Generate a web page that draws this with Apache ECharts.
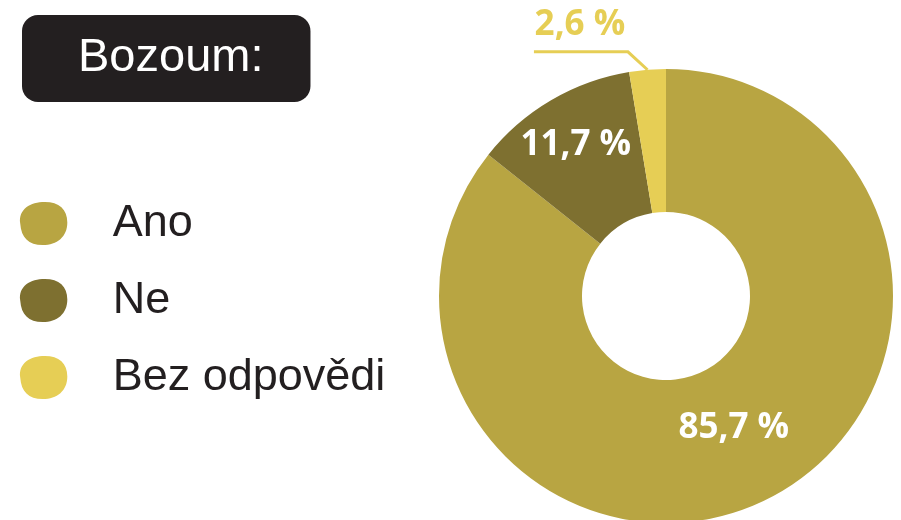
<!DOCTYPE html>
<html>
<head>
<meta charset="utf-8">
<script src="https://cdn.jsdelivr.net/npm/echarts@6/dist/echarts.min.js"></script>
<style>
html,body{margin:0;padding:0;background:#fff;}
#chart{width:901px;height:520px;}
</style>
</head>
<body>
<div id="chart"></div>
<script>
const titleText = 'Bozoum:';
const categories = ['Ano', 'Ne', 'Bez odpovědi'];
const values = [85.7, 11.7, 2.6];
const labels = ['85,7 %', '11,7 %', '2,6 %'];
const colors = ['#B8A542', '#7E7030', '#E6CE55'];

const chart = echarts.init(document.getElementById('chart'), null, {renderer: 'canvas'});

const data = categories.map((c, i) => ({
  name: c,
  value: values[i],
  itemStyle: {color: colors[i]},
  label: i === 2 ? {
    position: 'outside',
    color: colors[2],
    fontFamily: 'Open Sans',
    fontWeight: 'bold',
    fontSize: 35
  } : {
    position: 'inside',
    color: '#ffffff',
    fontFamily: 'Open Sans',
    fontWeight: 'bold',
    fontSize: 35
  },
  labelLine: i === 2 ? {show: true, length: 19, length2: 112, lineStyle: {color: colors[2], width: 3}} : {show: false}
}));

const option = {
  backgroundColor: '#ffffff',
  animation: false,
  title: {
    text: titleText,
    left: 22,
    top: 15,
    backgroundColor: '#231f20',
    borderRadius: 16,
    padding: [20, 47, 20, 56],
    textStyle: {
      color: '#ffffff',
      fontFamily: 'Liberation Sans',
      fontWeight: 'normal',
      fontSize: 47,
      lineHeight: 47
    }
  },
  legend: {
    orient: 'vertical',
    left: 20,
    top: 201,
    padding: 0,
    itemWidth: 48,
    itemHeight: 43,
    itemGap: 32,
    icon: 'path://M2,22 C0,8 12,1 26,1 C40,1 48,8 48,21 C48,35 38,43 24,43 C10,43 3,36 2,22 Z',
    textStyle: {
      color: '#231f20',
      fontFamily: 'Liberation Sans',
      fontSize: 45,
      padding: [0, 0, 0, 40]
    },
    selectedMode: false,
    data: categories
  },
  series: [{
    type: 'pie',
    center: [666, 296],
    radius: [84, 227],
    startAngle: 90,
    clockwise: true,
    avoidLabelOverlap: false,
    silent: true,
    label: {
      show: true,
      formatter: p => labels[p.dataIndex]
    },
    labelLayout: function (p) {
      if (p.dataIndex === 1) return {dx: -10, dy: -14};
      if (p.dataIndex === 0) return {dx: -1, dy: -11};
      if (p.dataIndex === 2 && p.labelLinePoints) {
        const pts = p.labelLinePoints;
        const a = pts[1], b = pts[2];
        const mid = [a[0] - 18, a[1] + 1];
        return {
          x: (mid[0] + b[0]) / 2 - 1,
          y: b[1] - 8,
          align: 'center',
          verticalAlign: 'bottom',
          labelLinePoints: [pts[0], mid, [b[0], b[1] + 1]]
        };
      }
    },
    data: data
  }]
};
chart.setOption(option);
</script>
</body>
</html>
